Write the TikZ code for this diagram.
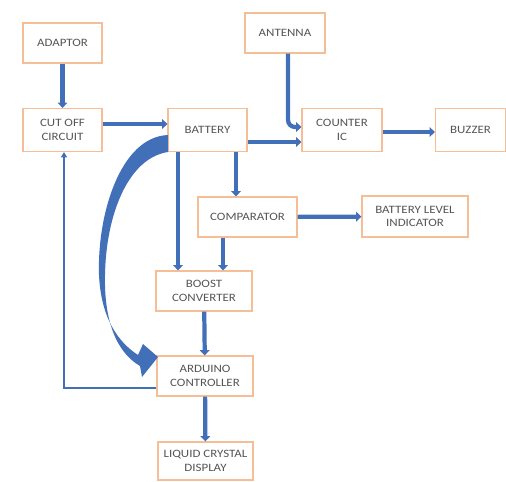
\documentclass[tikz,border=0pt]{standalone}
\usepackage{fontspec}
\setmainfont[FakeStretch=1.15]{Carlito}
\usepackage{xcolor}
\usepackage{tikz}
\usetikzlibrary{arrows.meta}
\definecolor{boxline}{RGB}{246, 190, 150}
\definecolor{flow}{RGB}{65, 112, 184}
\definecolor{label}{RGB}{85, 85, 85}

\begin{document}
\begin{tikzpicture}[
    x=0.02cm, y=-0.02cm,
    box/.style={draw=boxline, line width=0.7pt, fill=white, minimum width=1.58cm, minimum height=0.86cm, align=center, text=label, font=\fontsize{6.4}{7.6}\selectfont, inner sep=1pt},
    arr/.style={draw=flow, line width=2.4pt, -{Triangle[length=3pt, width=5.5pt]}},
    thin arr/.style={draw=flow, line width=0.9pt, -{Triangle[length=3pt, width=3.5pt]}},
]
    \useasboundingbox (0,0) rectangle (506,481);

    \node[box, minimum height=0.8cm] (adaptor) at (62.5,43) {ADAPTOR};
    \node[box] (cutoff) at (62.5,130) {CUT OFF\\CIRCUIT};
    \node[box] (battery) at (207.5,130) {BATTERY};
    \node[box, minimum width=1.6cm, minimum height=0.8cm] (antenna) at (285,33) {ANTENNA};
    \node[box, minimum width=1.6cm] (counter) at (342,130) {COUNTER\\IC};
    \node[box, minimum width=1.4cm] (buzzer) at (470.5,130) {BUZZER};
    \node[box, minimum width=1.98cm, minimum height=0.8cm] (comparator) at (247.5,217) {COMPARATOR};
    \node[box, minimum width=2.12cm, minimum height=0.82cm] (level) at (415,216.5) {BATTERY LEVEL\\INDICATOR};
    \node[box, minimum width=1.92cm, minimum height=0.8cm] (boost) at (204,291) {BOOST\\CONVERTER};
    \node[box, minimum width=1.92cm, minimum height=0.8cm] (arduino) at (205,376) {ARDUINO\\CONTROLLER};
    \node[box, minimum width=1.9cm, minimum height=0.76cm] (lcd) at (205.5,461) {LIQUID CRYSTAL\\DISPLAY};

    \draw[arr] (adaptor) -- (cutoff);
    \draw[arr] ([yshift=0.12cm]cutoff.east) -- ([yshift=0.12cm]battery.west);
    \draw[arr] ([yshift=-0.24cm]battery.east) -- ([yshift=-0.24cm]counter.west);
    \draw[arr, rounded corners=4pt] ([xshift=0.06cm]antenna.south) |- ([yshift=0.06cm]counter.west);
    \draw[arr] ([yshift=-0.04cm]counter.east) -- ([yshift=-0.04cm]buzzer.west);
    \draw[arr] ([xshift=0.57cm]battery.south) -- ([xshift=0.57cm]battery.south |- comparator.north);
    \draw[arr] ([xshift=-0.59cm]battery.south) -- ([xshift=-0.59cm]battery.south |- boost.north);
    \draw[arr] ([xshift=-0.49cm]comparator.south) -- ([xshift=-0.49cm]comparator.south |- boost.north);
    \draw[arr] (comparator) -- (level);
    \draw[arr] (boost) -- (arduino);
    \draw[arr] (arduino) -- (lcd);
    \draw[thin arr] ([yshift=-0.24cm]arduino.west) -| ([xshift=0.03cm]cutoff.south);

    \fill[flow] (168,135) .. controls (120,137) and (97,215) .. (99,275)
        .. controls (101,318) and (118,342) .. (138,355) -- (143,344) -- (158,357)
        -- (142,377) -- (140,366) .. controls (116,352) and (104,320) .. (105,275)
        .. controls (106,215) and (128,158) .. (168,152) -- cycle;
\end{tikzpicture}
\end{document}
